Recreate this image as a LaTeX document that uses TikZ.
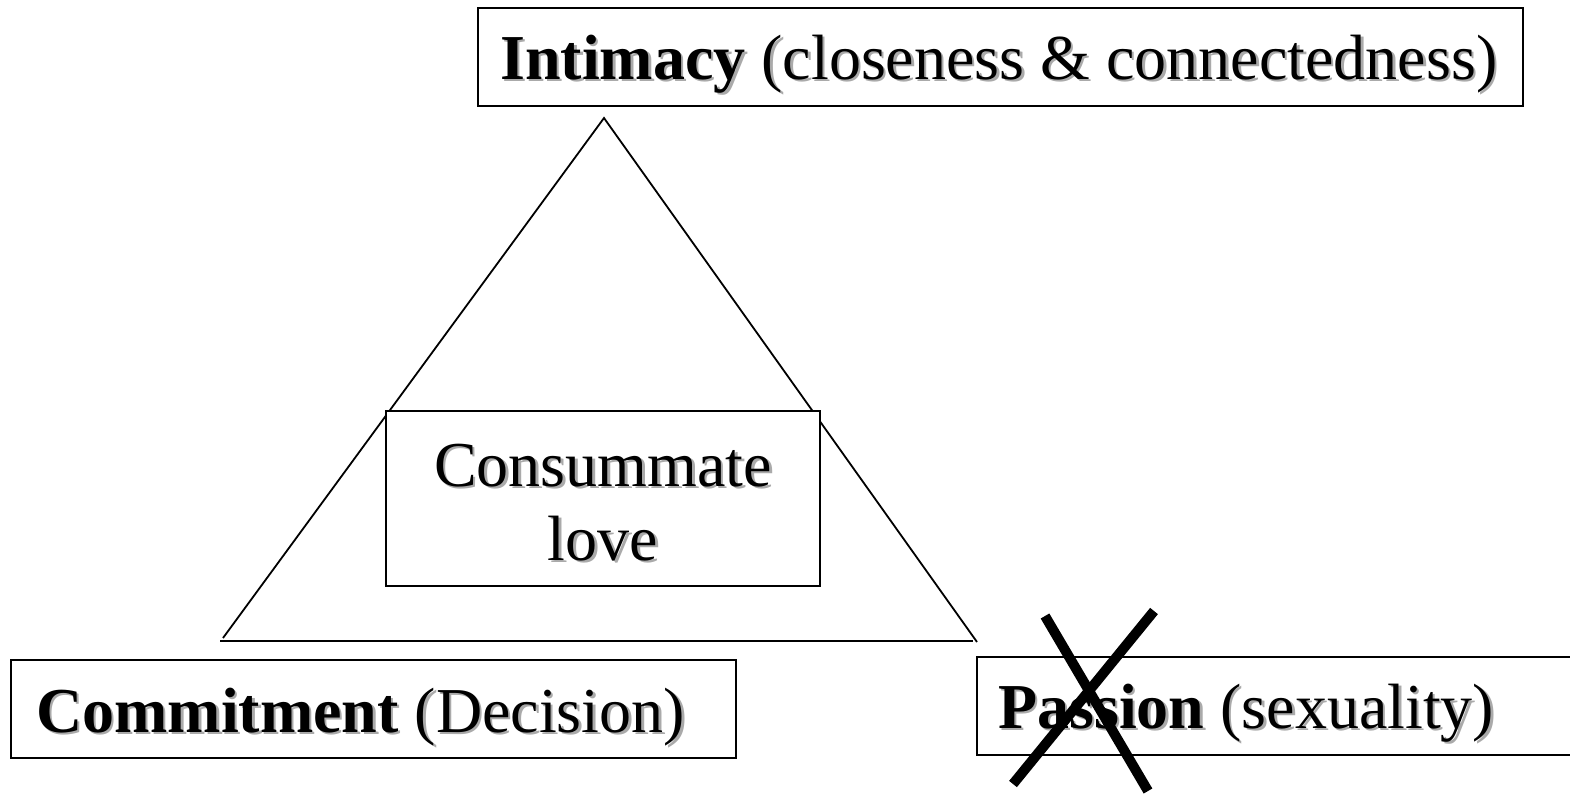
\documentclass[tikz,border=0pt]{standalone}
\usepackage{fontspec}
\setmainfont{Liberation Serif}
\definecolor{shadowgray}{RGB}{170,170,170}
% text with a soft grey drop shadow
\newcommand\shtext[1]{\makebox[0pt][l]{\hspace*{2.5pt}\raisebox{-2.5pt}{\color{shadowgray}#1}}#1}
\begin{document}
\begin{tikzpicture}[x=1pt,y=-1pt,
  box/.style={draw,line width=2pt,rectangle,inner sep=0pt,anchor=north west},
  caption/.style={inner sep=0pt,anchor=base west,font=\fontsize{64}{74}\selectfont},
  centercaption/.style={caption,anchor=base},
  side/.style={line width=1.8pt},
  cross/.style={line width=10pt}]
\useasboundingbox (0,0) rectangle (1570,796);

% triangle
\coordinate (apex) at (604,118);
\coordinate (bl) at (223,638);
\coordinate (br) at (977,642);
\coordinate (baseL) at (220,641);
\coordinate (baseR) at (973,641);
\draw[side] (bl) -- (apex) -- (br);
\draw[line width=2.4pt] (baseL) -- (baseR);

% corner boxes
\node[box,minimum width=1045pt,minimum height=98pt] (intimacy) at (477,7) {};
\node[caption] (intimacytext) at (500,79)
  {\shtext{\textbf{Intimacy} (closeness \& connectedness)}};

\node[box,minimum width=725pt,minimum height=98pt] (commitment) at (10,659) {};
\node[caption] (commitmenttext) at (36,732)
  {\shtext{\textbf{Commitment} (Decision)}};

\node[box,minimum width=700pt,minimum height=98pt] (passion) at (976,656) {};
\node[caption] (passiontext) at (998,728)
  {\shtext{\textbf{Passion} (sexuality)}};

% centre box
\node[box,fill=white,anchor=center,minimum width=434pt,minimum height=175pt] (consummate) at (603,498.5) {};
\node[centercaption] (consummate1) at (603,486) {\shtext{Consummate}};
\node[centercaption] (consummate2) at (603,560) {\shtext{love}};

% crossed out
\coordinate (xa1) at (1154,611);
\coordinate (xa2) at (1013,784);
\coordinate (xb1) at (1045,616);
\coordinate (xb2) at (1148,791);
\draw[cross] (xa1) -- (xa2);
\draw[cross] (xb1) -- (xb2);
\end{tikzpicture}
\end{document}
